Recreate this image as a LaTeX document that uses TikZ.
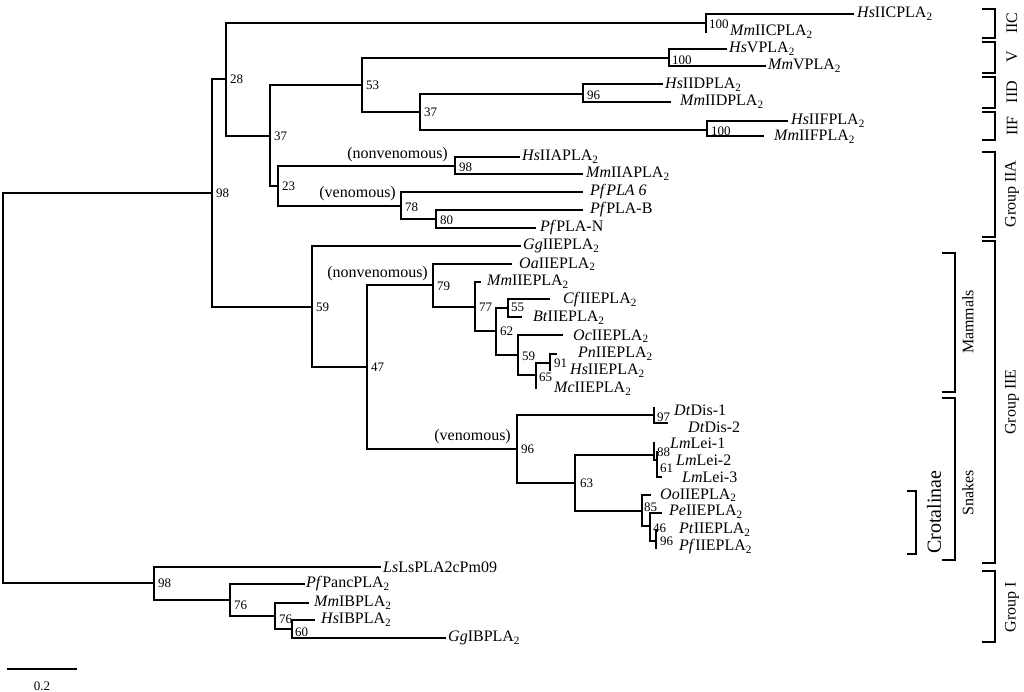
\documentclass[tikz,border=0pt]{standalone}
\usepackage{fontspec}
\setmainfont{Liberation Serif}
\begin{document}
\begin{tikzpicture}[x=1pt,y=-1pt,
  br/.style={line width=1.4pt,line cap=rect},
  lf/.style={anchor=west,inner sep=0pt,font=\fontsize{16}{18}\selectfont},
  bs/.style={anchor=west,inner sep=0pt,font=\fontsize{13}{15}\selectfont},
  ann/.style={anchor=east,inner sep=0pt,font=\fontsize{16}{18}\selectfont},
  grp/.style={rotate=90,inner sep=0pt,font=\fontsize{16}{18}\selectfont},
  bk/.style={line width=1.6pt}]
\useasboundingbox (0,0) rectangle (1024,692);
\newcommand{\pla}{PLA\textsubscript{2}}
% tree
\draw[br] (154,583)-|(3,193)--(212,193);
\draw[br] (226,79)-|(212,307)--(312,307);
\draw[br] (706,23)-|(226,136)--(270,136);
\draw[br] (853,14)-|(706,32);
\draw[br] (362,85)-|(270,186)--(278,186);
\draw[br] (669,58)-|(362,112)--(420,112);
\draw[br] (726,49)-|(669,66)--(765,66);
\draw[br] (583,94)-|(420,130)--(707,130);
\draw[br] (662,84)-|(583,102)--(670,102);
\draw[br] (787,121)-|(707,136)--(763,136);
\draw[br] (455,166)-|(278,206)--(401,206);
\draw[br] (519,157)-|(455,174)--(582,174);
\draw[br] (582,192)-|(401,219)--(436,219);
\draw[br] (582,210)-|(436,228)--(535,228);
\draw[br] (520,246)-|(312,367)--(367,367);
\draw[br] (433,285)-|(367,449)--(517,449);
\draw[br] (511,264)-|(433,307)--(475,307);
\draw[br] (480,282)-|(475,331)--(496,331);
\draw[br] (508,308)-|(496,355)--(518,355);
\draw[br] (549,299)-|(508,317)--(521,317);
\draw[br] (562,335)-|(518,375)--(536,375);
\draw[br] (550,363)-|(536,388);
\draw[br] (556,354)-|(550,370);
\draw[br] (654,415)-|(517,483)--(575,483);
\draw[br] (654,408)--(654,423)--(667,423);
\draw[br] (654,455)-|(575,511)--(642,511);
\draw[br] (654,443)--(654,460)--(657,460);
\draw[br] (657,452)--(657,477)--(661,477);
\draw[br] (650,495)-|(642,526)--(650,526);
\draw[br] (661,513)-|(650,541)--(656,541);
\draw[br] (656,530)--(656,548);
\draw[br] (380,567)-|(154,600)--(230,600);
\draw[br] (304,584)-|(230,616)--(275,616);
\draw[br] (308,603)-|(275,629)--(292,629);
\draw[br] (314,620)-|(292,638)--(445,638);
\draw[br] (8,669)--(76,669);
\node[bs,anchor=center] (sc) at (42,686) {0.2};
% bootstrap
\node[bs] (b1) at (216,193) {98};
\node[bs] (b2) at (230,79) {28};
\node[bs] (b3) at (709,24) {100};
\node[bs] (b4) at (274,136) {37};
\node[bs] (b5) at (366,85) {53};
\node[bs] (b6) at (672,60) {100};
\node[bs] (b7) at (424,112) {37};
\node[bs] (b8) at (587,95) {96};
\node[bs] (b9) at (711,131) {100};
\node[bs] (b10) at (282,186) {23};
\node[bs] (b11) at (459,167) {98};
\node[bs] (b12) at (405,207) {78};
\node[bs] (b13) at (440,220) {80};
\node[bs] (b14) at (316,307) {59};
\node[bs] (b15) at (371,367) {47};
\node[bs] (b16) at (437,286) {79};
\node[bs] (b17) at (479,307) {77};
\node[bs] (b18) at (500,331) {62};
\node[bs] (b19) at (511,307) {55};
\node[bs] (b20) at (522,356) {59};
\node[bs] (b21) at (539,377) {65};
\node[bs] (b22) at (554,363) {91};
\node[bs] (b23) at (521,449) {96};
\node[bs] (b24) at (657,417) {97};
\node[bs] (b25) at (580,483) {63};
\node[bs] (b26) at (657,452) {88};
\node[bs] (b27) at (660,468) {61};
\node[bs] (b28) at (644,507) {85};
\node[bs] (b29) at (653,528) {46};
\node[bs] (b30) at (660,541) {96};
\node[bs] (b31) at (158,583) {98};
\node[bs] (b32) at (234,605) {76};
\node[bs] (b33) at (279,619) {76};
\node[bs] (b34) at (295,632) {60};
% annotations
\node[ann] (n1) at (448,155) {(nonvenomous)};
\node[ann] (n2) at (396,194) {(venomous)};
\node[ann] (n3) at (428,274) {(nonvenomous)};
\node[ann] (n4) at (511,437) {(venomous)};
% leaves
\node[lf] (l1) at (857,14) {\textit{Hs}IIC\pla};
\node[lf] (l2) at (730,32) {\textit{Mm}IIC\pla};
\node[lf] (l3) at (729,49) {\textit{Hs}V\pla};
\node[lf] (l4) at (768,66) {\textit{Mm}V\pla};
\node[lf] (l5) at (665,85) {\textit{Hs}IID\pla};
\node[lf] (l6) at (680,102) {\textit{Mm}IID\pla};
\node[lf] (l7) at (791,121) {\textit{Hs}IIF\pla};
\node[lf] (l8) at (774,137) {\textit{Mm}IIF\pla};
\node[lf] (l9) at (522,157) {\textit{Hs}IIA\pla};
\node[lf] (l10) at (586,174) {\textit{Mm}IIA\pla};
\node[lf] (l11) at (590,192) {\textit{Pf}\textit{PLA 6}};
\node[lf] (l12) at (590,210) {\textit{Pf}PLA-B};
\node[lf] (l13) at (540,228) {\textit{Pf}PLA-N};
\node[lf] (l14) at (523,246) {\textit{Gg}IIE\pla};
\node[lf] (l15) at (519,264) {\textit{Oa}IIE\pla};
\node[lf] (l16) at (487,282) {\textit{Mm}IIE\pla};
\node[lf] (l17) at (563,300) {\textit{Cf}IIE\pla};
\node[lf] (l18) at (533,318) {\textit{Bt}IIE\pla};
\node[lf] (l19) at (573,336) {\textit{Oc}IIE\pla};
\node[lf] (l20) at (578,354) {\textit{Pn}IIE\pla};
\node[lf] (l21) at (570,371) {\textit{Hs}IIE\pla};
\node[lf] (l22) at (554,389) {\textit{Mc}IIE\pla};
\node[lf] (l23) at (674,410) {\textit{Dt}Dis-1};
\node[lf] (l24) at (688,427) {\textit{Dt}Dis-2};
\node[lf] (l25) at (670,443) {\textit{Lm}Lei-1};
\node[lf] (l26) at (676,460) {\textit{Lm}Lei-2};
\node[lf] (l27) at (682,477) {\textit{Lm}Lei-3};
\node[lf] (l28) at (660,495) {\textit{Oo}IIE\pla};
\node[lf] (l29) at (669,512) {\textit{Pe}IIE\pla};
\node[lf] (l30) at (679,530) {\textit{Pt}IIE\pla};
\node[lf] (l31) at (679,547) {\textit{Pf}IIE\pla};
\node[lf] (l32) at (383,567) {\textit{Ls}LsPLA2cPm09};
\node[lf] (l33) at (306,584) {\textit{Pf}Panc\pla};
\node[lf] (l34) at (314,603) {\textit{Mm}IB\pla};
\node[lf] (l35) at (321,620) {\textit{Hs}IB\pla};
\node[lf] (l36) at (448,638) {\textit{Gg}IB\pla};
% brackets
\foreach \a/\b in {9/38,42/73,77/108,112/140,152/237,241/563,571/642}
  \draw[bk] (982,\a)--(995,\a)--(995,\b)--(982,\b);
\draw[bk] (942,253)--(955,253)--(955,392)--(942,392);
\draw[bk] (942,398)--(955,398)--(955,560)--(942,560);
\draw[bk] (907,491)--(916,491)--(916,554)--(907,554);
\node[grp] (g1) at (1012,23) {IIC};
\node[grp] (g2) at (1012,57) {V};
\node[grp] (g3) at (1012,92) {IID};
\node[grp] (g4) at (1012,126) {IIF};
\node[grp] (g5) at (1012,194) {Group IIA};
\node[grp] (g6) at (1012,402) {Group IIE};
\node[grp] (g7) at (1012,607) {Group I};
\node[grp] (g8) at (968,322) {Mammals};
\node[grp] (g9) at (968,493) {Snakes};
\node[grp,font=\fontsize{20}{22}\selectfont] (g10) at (934,512) {Crotalinae};
\end{tikzpicture}
\end{document}
